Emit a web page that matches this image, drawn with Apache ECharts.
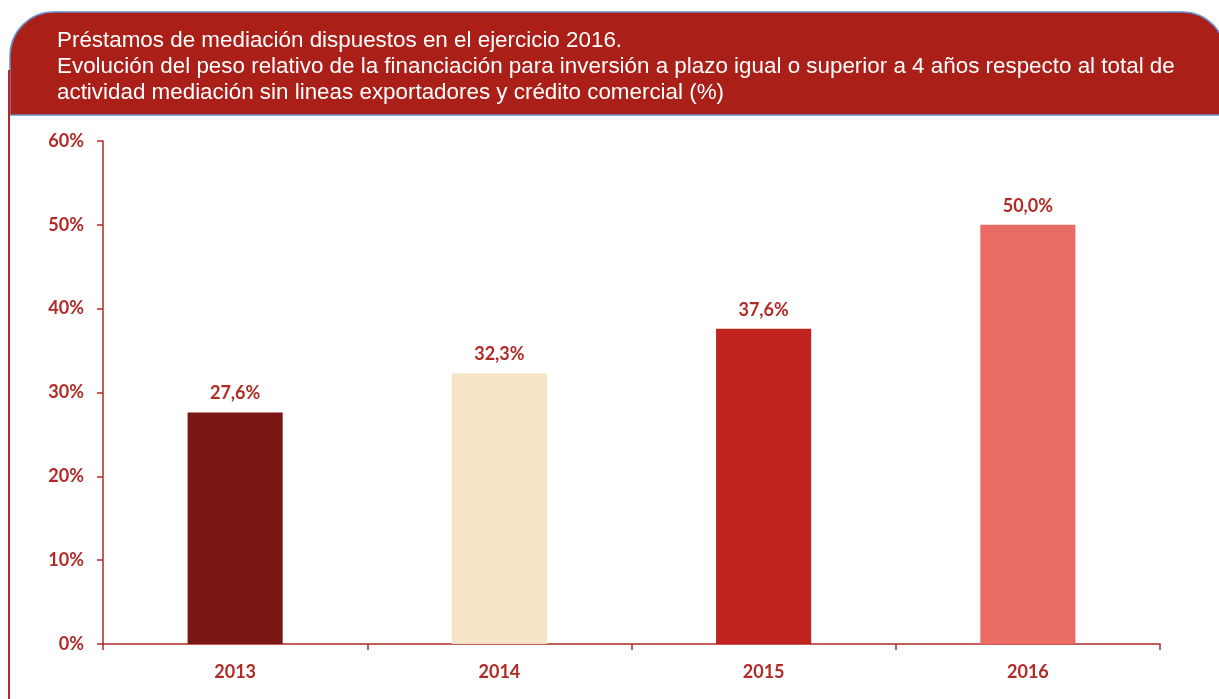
<!DOCTYPE html>
<html>
<head>
<meta charset="utf-8">
<script src="https://cdn.jsdelivr.net/npm/echarts@6/dist/echarts.min.js"></script>
<style>
  html, body { margin: 0; padding: 0; background: #fff; }
  #chart { width: 1219px; height: 699px; }
</style>
</head>
<body>
<div id="chart"></div>
<script>
// datos del gráfico
const years = ['2013', '2014', '2015', '2016'];
const values = [27.6, 32.3, 37.6, 50.0];
const barColors = ['#7B1712', '#F5E4C8', '#C0231E', '#E86C64'];
const titleLines = [
  'Préstamos de mediación dispuestos en el ejercicio 2016.',
  'Evolución del peso relativo de la financiación para inversión a plazo igual o superior a 4 años respecto al total de',
  'actividad mediación sin lineas exportadores y crédito comercial (%)'
];

const red = '#B22A25';
let chart = echarts.init(document.getElementById('chart'));

chart.setOption({
  backgroundColor: '#fff',
  animation: false,
  graphic: [
    {
      type: 'rect',
      shape: { x: 10, y: 12, width: 1216, height: 103, r: [44, 44, 0, 0] },
      style: { fill: '#AA2019', stroke: '#6A8FC8', lineWidth: 1.5 },
      z: 0
    },
    {
      type: 'line',
      shape: { x1: 9, y1: 70, x2: 9, y2: 699 },
      style: { stroke: red, lineWidth: 2 },
      z: 1
    },
    {
      type: 'text',
      left: 57,
      top: 28,
      style: {
        text: titleLines.join('\n'),
        fill: '#fff',
        font: '22.4px "Liberation Sans", Arial, sans-serif',
        lineHeight: 26
      },
      z: 2
    }
  ],
  grid: { left: 103, right: 59, top: 141, bottom: 55 },
  xAxis: {
    type: 'category',
    data: years,
    axisLine: { lineStyle: { color: red, width: 1.5 } },
    axisTick: { show: true, length: 6, lineStyle: { color: red, width: 1.5 } },
    axisLabel: {
      color: red,
      fontFamily: 'Lato, "Open Sans", sans-serif',
      fontWeight: 'bold',
      fontSize: 18,
      margin: 19
    }
  },
  yAxis: {
    type: 'value',
    min: 0,
    max: 60,
    interval: 10,
    axisLine: { show: true, lineStyle: { color: red, width: 1.5 } },
    axisTick: { show: true, length: 6, lineStyle: { color: red, width: 1.5 } },
    splitLine: { show: false },
    axisLabel: {
      formatter: '{value}%',
      color: red,
      fontFamily: 'Lato, "Open Sans", sans-serif',
      fontWeight: 'bold',
      fontSize: 18,
      margin: 19
    }
  },
  series: [{
    type: 'bar',
    barWidth: '36%',
    data: values.map((v, i) => ({ value: v, itemStyle: { color: barColors[i] } })),
    label: {
      show: true,
      position: 'top',
      distance: 10,
      color: red,
      fontFamily: 'Lato, "Open Sans", sans-serif',
      fontWeight: 'bold',
      fontSize: 18,
      formatter: p => p.value.toFixed(1).replace('.', ',') + '%'
    }
  }]
});
</script>
</body>
</html>
